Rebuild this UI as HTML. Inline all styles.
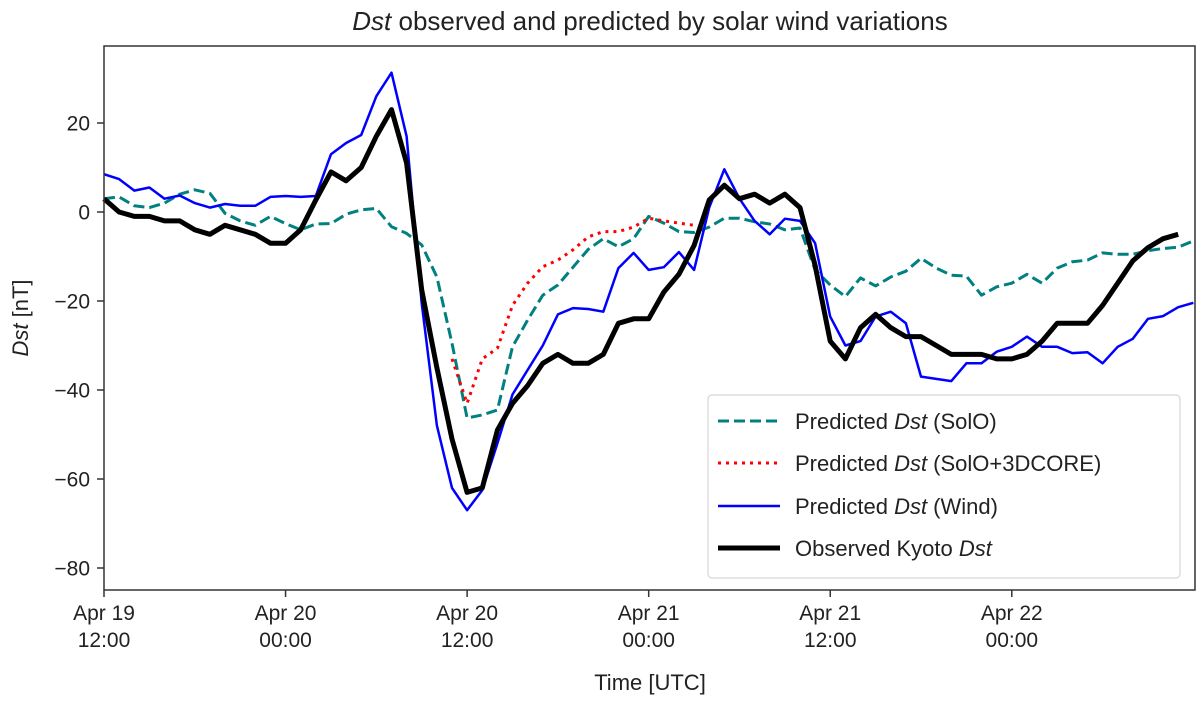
<!DOCTYPE html>
<html><head><meta charset="utf-8"><style>
body{margin:0;background:#fff;}
svg text{font-family:"Liberation Sans","DejaVu Sans",sans-serif;fill:#222;}
</style></head><body>
<svg id="chart" width="1200" height="698" xmlns="http://www.w3.org/2000/svg">
<text x="650" y="30" font-size="26" text-anchor="middle"><tspan font-style="italic">Dst</tspan> observed and predicted by solar wind variations</text>
<g id="series"></g>
<rect x="104" y="46" width="1091" height="544" fill="none" stroke="#333" stroke-width="1.5"/>
<g id="axes"></g>
<text transform="translate(28,318) rotate(-90)" font-size="22" text-anchor="middle"><tspan font-style="italic">Dst</tspan> [nT]</text>
<text x="650" y="690" font-size="22" text-anchor="middle">Time [UTC]</text>
<g>
<rect x="708" y="395" width="472" height="183" rx="4" fill="#fff" stroke="#ccc" stroke-width="1"/>
<g><line x1="718" y1="421" x2="780" y2="421" stroke="#008080" stroke-width="3" stroke-dasharray="11,5"/><text x="795" y="429" font-size="22">Predicted <tspan font-style="italic">Dst</tspan> (SolO)</text></g>
<g><line x1="718" y1="463" x2="780" y2="463" stroke="#ff0000" stroke-width="3" stroke-dasharray="3,5"/><text x="795" y="471" font-size="22">Predicted <tspan font-style="italic">Dst</tspan> (SolO+3DCORE)</text></g>
<g><line x1="718" y1="506" x2="780" y2="506" stroke="#0000ff" stroke-width="2.5"/><text x="795" y="514" font-size="22">Predicted <tspan font-style="italic">Dst</tspan> (Wind)</text></g>
<g><line x1="718" y1="548" x2="780" y2="548" stroke="#000" stroke-width="5"/><text x="795" y="556" font-size="22">Observed Kyoto <tspan font-style="italic">Dst</tspan></text></g>
</g>
</svg>
<script>
const yTicks=[20,0,-20,-40,-60,-80];
const xTickHours=[0,12,24,36,48,60];
const xTickLine1=["Apr 19","Apr 20","Apr 20","Apr 21","Apr 21","Apr 22"];
const xTickLine2=["12:00","00:00","12:00","00:00","12:00","00:00"];
const observed=[3,0,-1,-1,-2,-2,-4,-5,-3,-4,-5,-7,-7,-4,2.7,9,7,10,17,23,11,-17.5,-35,-51,-63,-62,-49,-43,-39,-34,-32,-34,-34,-32,-25,-24,-24,-18,-14,-7.5,2.7,6,3,4,2,4,1,-12,-29,-33,-26,-23,-26,-28,-28,-30,-32,-32,-32,-33,-33,-32,-29,-25,-25,-25,-21,-16,-11,-8,-6,-5];
const wind=[8.5,7.4,4.8,5.5,3,3.7,2,1,1.8,1.4,1.4,3.4,3.6,3.4,3.6,13,15.5,17.3,26,31.3,17,-20.5,-48,-62,-67,-62.5,-52,-41,-35.5,-30,-23,-21.6,-21.8,-22.4,-12.6,-9.2,-13,-12.4,-9,-13,1,9.6,3,-2,-5,-1.5,-2,-7,-23.5,-30,-29,-23.5,-22.4,-25,-37,-37.5,-38,-34,-34,-31.4,-30.3,-28,-30.3,-30.3,-31.7,-31.5,-34,-30.3,-28.5,-24,-23.4,-21.4,-20.4];
const solo=[3,3.4,1.4,1,2,4,5,4.2,-0.3,-2,-3,-1,-2.6,-4,-2.7,-2.6,-0.5,0.5,0.8,-3.3,-4.8,-7.4,-14.6,-29.5,-46.3,-45.6,-44.5,-30.3,-24.3,-18.7,-16.4,-12.4,-8.4,-6,-7.8,-6,-1,-2.5,-4.4,-4.6,-3.4,-1.4,-1.4,-2.2,-2.7,-4,-3.6,-13,-16.4,-19,-14.8,-16.6,-14.6,-13.3,-10.4,-12.6,-14.2,-14.4,-18.7,-16.8,-16,-14,-16,-12.6,-11.2,-10.8,-9.2,-9.5,-9.5,-8.7,-8.2,-7.9,-6.5];
const core3dStart=23;
const core3d=[-33,-43,-33,-30.6,-21,-16,-12.3,-10.8,-8.5,-5.6,-4.4,-4.4,-3.4,-1.4,-2,-2.5,-3];
const NS="http://www.w3.org/2000/svg";
function X(h){return 104+h*15.13;}
function Y(v){return 212-v*4.45;}
const axes=document.getElementById('axes');
function mk(tag,attrs,parent){const e=document.createElementNS(NS,tag);for(const k in attrs)e.setAttribute(k,attrs[k]);parent.appendChild(e);return e;}
yTicks.forEach(v=>{
  const g=mk('g',{},axes);
  
  
  mk('line',{x1:97,x2:104,y1:Y(v),y2:Y(v),stroke:'#333','stroke-width':1.5},g);
  const t=mk('text',{x:90,y:Y(v)+7.5,'font-size':21,'text-anchor':'end'},g);
  t.textContent=(v<0?'\u2212'+(-v):''+v);
});
xTickHours.forEach((h,i)=>{
  const g=mk('g',{},axes);
  
  
  mk('line',{x1:X(h),x2:X(h),y1:590,y2:597,stroke:'#333','stroke-width':1.5},g);
  const t1=mk('text',{x:X(h),y:620,'font-size':21,'text-anchor':'middle'},g);t1.textContent=xTickLine1[i];
  const t2=mk('text',{x:X(h),y:647,'font-size':21,'text-anchor':'middle'},g);t2.textContent=xTickLine2[i];
});
const ser=document.getElementById('series');
function line(arr,start,attrs,name){
  const pts=arr.map((v,i)=>X(start+i).toFixed(1)+','+Y(v).toFixed(1)).join(' ');
  const p=mk('polyline',Object.assign({points:pts,fill:'none','stroke-linejoin':'round'},attrs),ser);
  
  
}
line(solo,0,{stroke:'#008080','stroke-width':3,'stroke-dasharray':'11,5'},'solo-line');
line(core3d,core3dStart,{stroke:'#ff0000','stroke-width':3,'stroke-dasharray':'3,5'},'solo-3dcore-line');
line(wind,0,{stroke:'#0000ff','stroke-width':2.5},'wind-line');
line(observed,0,{stroke:'#000','stroke-width':5},'observed-line');
</script>
</body></html>
